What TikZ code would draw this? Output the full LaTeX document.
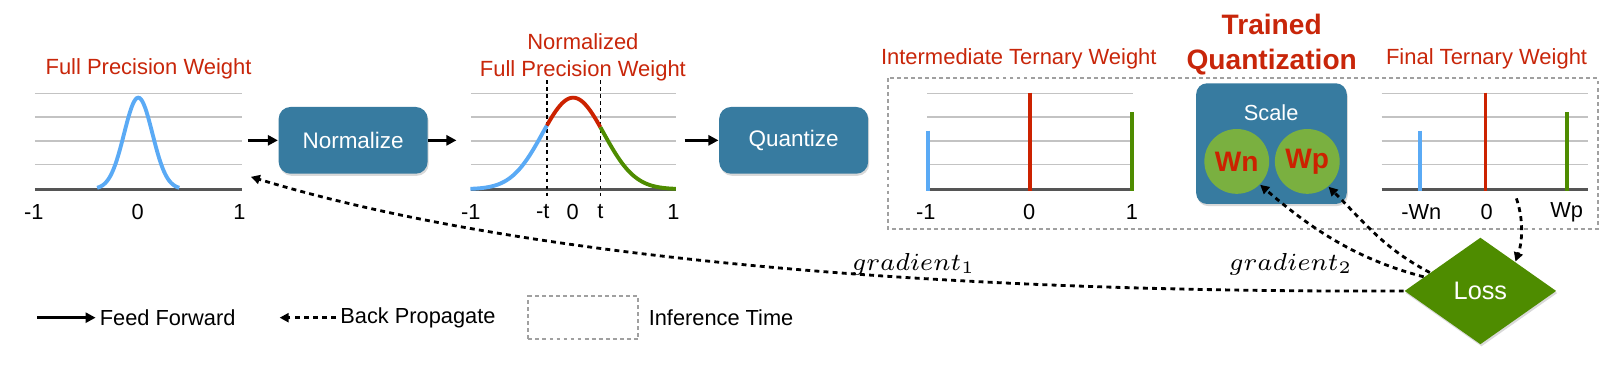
\documentclass[tikz,border=0pt]{standalone}
\usepackage{fontspec}
\setmainfont{Liberation Sans}
\usetikzlibrary{arrows.meta,shapes.geometric,shadows}

\definecolor{titred}{RGB}{200,38,10}
\definecolor{barred}{RGB}{204,34,0}
\definecolor{curveblue}{RGB}{90,170,245}
\definecolor{darkgreen}{RGB}{78,140,0}
\definecolor{boxblue}{RGB}{55,123,160}
\definecolor{circgreen}{RGB}{122,176,64}
\definecolor{gridgray}{RGB}{195,195,195}
\definecolor{axisgray}{RGB}{85,85,85}
\definecolor{dashgray}{RGB}{160,160,160}

\begin{document}
\begin{tikzpicture}[x=0.1028mm, y=-0.1028mm,
    ttl/.style={text=titred, font=\fontsize{6.25}{7.6}\selectfont, align=center, inner sep=0pt},
    ticklbl/.style={font=\fontsize{6.2}{7}\selectfont, inner sep=0pt},
    legend/.style={font=\fontsize{6.2}{7}\selectfont, inner sep=1pt},
    gradlbl/.style={font=\fontsize{7}{8}\selectfont, inner sep=0pt, anchor=base},
    gridline/.style={gridgray, line width=0.5pt},
    axisline/.style={axisgray, line width=0.8pt},
    curve/.style={line width=1.1pt},
    bar/.style={line width=1.1pt},
    tline/.style={black, line width=0.4pt, dash pattern=on 1pt off 1pt},
    procbox/.style={rectangle, rounded corners=1.2mm, fill=boxblue, text=white,
        minimum width=14.9mm, minimum height=6.68mm, font=\fontsize{6.4}{7.5}\selectfont,
        drop shadow={shadow xshift=0.3pt, shadow yshift=-0.6pt, opacity=0.3}},
    scalebox/.style={rectangle, rounded corners=1.1mm, fill=boxblue,
        minimum width=15.06mm, minimum height=12.07mm,
        drop shadow={shadow xshift=0.3pt, shadow yshift=-0.6pt, opacity=0.3}},
    wcirc/.style={circle, fill=circgreen, text=barred, minimum size=6.48mm, inner sep=0pt,
        font=\fontsize{8}{9}\selectfont\bfseries},
    lossdia/.style={diamond, fill=darkgreen, text=white, aspect=1.43, inner sep=0pt,
        minimum width=15.2mm, minimum height=10.7mm, font=\fontsize{7.2}{8}\selectfont,
        drop shadow={shadow xshift=0.3pt, shadow yshift=-0.6pt, opacity=0.3}},
    infframe/.style={dashgray, line width=0.6pt, dash pattern=on 1.1pt off 0.9pt},
    ff/.style={black, line width=0.85pt, -{Triangle[length=1mm, width=1mm]}},
    bp/.style={black, line width=0.8pt, dash pattern=on 1.4pt off 1.2pt, -{Triangle[length=0.9mm, width=0.9mm]}}]

    \useasboundingbox (0,0) rectangle (1568,358);

    % Charts
    \foreach \xa/\xb in {34/235, 458/658, 902/1102, 1344/1545} {
        \foreach \gy in {91,114,137,160}
            \draw[gridline] (\xa,\gy) -- (\xb,\gy);
        \draw[axisline] (\xa,184) -- (\xb,184);
    }

    % Full precision weight
    \node[ttl] (ttlfp) at (144.5,66.5) {Full Precision Weight};
    \draw[curve, curveblue] plot[domain=-0.4:0.4, samples=61]
        ({134.5+100*\x}, {184-89*exp(-(\x)*(\x)/0.0381)});
    \node[ticklbl] (fpa) at (33,206) {-1};
    \node[ticklbl] (fpb) at (134,206) {0};
    \node[ticklbl] (fpc) at (233,206) {1};

    % Normalized full precision weight
    \node[ttl] (ttlnorm) at (567,56) {Normalized\\Full Precision Weight};
    \draw[tline] (532,78) -- (532,191);
    \draw[tline] (584,78) -- (584,191);
    \draw[curve, curveblue] plot[domain=-1:-0.255, samples=60]
        ({557.5+100*\x}, {184-89*exp(-(\x)*(\x)/0.18)});
    \draw[curve, barred] plot[domain=-0.255:0.265, samples=40]
        ({557.5+100*\x}, {184-89*exp(-(\x)*(\x)/0.18)});
    \draw[curve, darkgreen] plot[domain=0.265:1, samples=60]
        ({557.5+100*\x}, {184-89*exp(-(\x)*(\x)/0.18)});
    \node[ticklbl] (nfa) at (458,206) {-1};
    \node[ticklbl] (nfb) at (528,206) {-t};
    \node[ticklbl] (nfc) at (557,206) {0};
    \node[ticklbl] (nfd) at (584,206) {t};
    \node[ticklbl] (nfe) at (655,206) {1};

    % Steps
    \node[procbox] (norm) at (343.5,136.5) {Normalize};
    \node[procbox] (quant) at (772,136.5) {Quantize};
    \coordinate (fpout) at (241,136.5);
    \coordinate (nfin) at (444,136.5);
    \coordinate (nfout) at (666,136.5);
    \draw[ff] (fpout) -- (norm.west);
    \draw[ff] (norm.east) -- (nfin);
    \draw[ff] (nfout) -- (quant.west);

    % Inference time
    \draw[infframe] (864,76) rectangle (1554,223);
    \node[ttl] (ttlint) at (991,57) {Intermediate Ternary Weight};
    \node[ttl, font=\fontsize{8}{9.9}\selectfont\bfseries] (ttltq) at (1237,43) {Trained\\Quantization};
    \node[ttl] (ttlfin) at (1446,57) {Final Ternary Weight};
    \foreach \xa/\xb/\xc in {902.7/1002.3/1100.8, 1381/1445/1524} {
        \draw[bar, curveblue] (\xa,127) -- (\xa,186);
        \draw[bar, barred] (\xb,90) -- (\xb,186);
        \draw[bar, darkgreen] (\xc,109) -- (\xc,186);
    }
    \node[ticklbl] (ita) at (900.5,206) {-1};
    \node[ticklbl] (itb) at (1001,206) {0};
    \node[ticklbl] (itc) at (1101,206) {1};
    \node[ticklbl] (fta) at (1382.5,206) {-Wn};
    \node[ticklbl] (ftb) at (1446,206) {0};
    \node[ticklbl] (ftc) at (1524,206) {Wp};

    % Scale
    \node[scalebox] (scale) at (1236.75,139.7) {};
    \node[ticklbl, text=white] (scalelbl) at (1236.5,110) {Scale};
    \node[wcirc] (wn) at (1203,157) {Wn};
    \node[wcirc] (wp) at (1271.6,157) {Wp};

    % Loss
    \node[lossdia] (loss) at (1440,283) {Loss};
    \coordinate (fpback) at (244,172);
    \coordinate (finout) at (1475,193);
    \draw[bp] (loss.west) .. controls (900,285) and (500,250) .. (fpback);
    \draw[bp] (loss.166) .. controls (1319,252) and (1276,223) .. (wn.-45);
    \draw[bp] (loss.160) .. controls (1345,241) and (1327,216) .. (wp.-50);
    \draw[bp] (finout) .. controls (1482,213) and (1481,235) .. (loss.40);
    \node[gradlbl] (gradone) at (888.5,263) {$gradient_1$};
    \node[gradlbl] (gradtwo) at (1255.5,263) {$gradient_2$};

    % Legend
    \coordinate (ffstart) at (36,309);
    \node[legend, anchor=west] (fflbl) at (93,309) {Feed Forward};
    \draw[ff] (ffstart) -- (fflbl.west);
    \coordinate (bpend) at (272,309);
    \node[legend, anchor=west] (bplbl) at (327,309) {Back Propagate};
    \draw[bp] (bplbl.west) -- (bpend);
    \node[infframe, draw, minimum width=11mm, minimum height=4.32mm] (infkey) at (567.5,309) {};
    \node[legend, anchor=west] (inflbl) at (627,309) {Inference Time};
\end{tikzpicture}
\end{document}
